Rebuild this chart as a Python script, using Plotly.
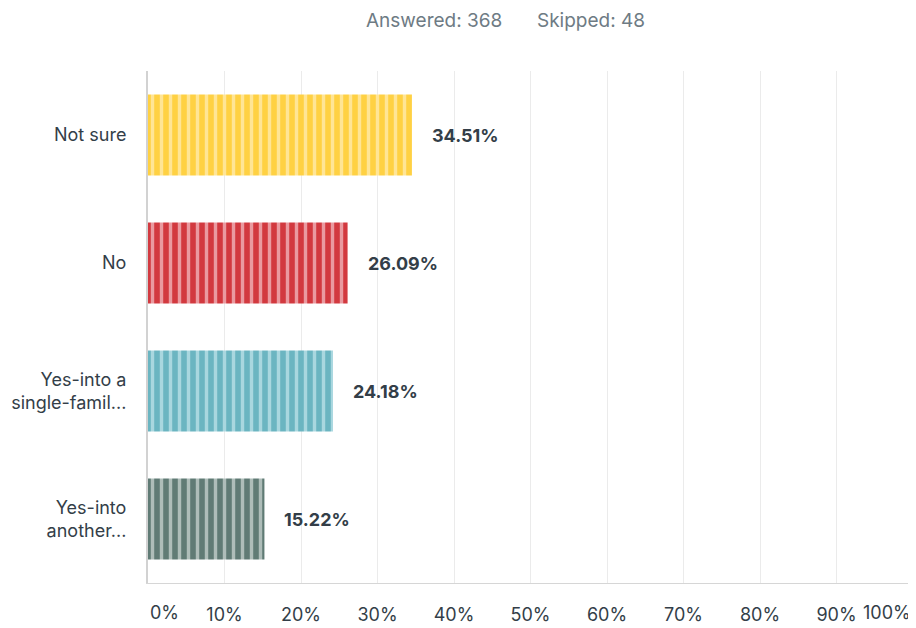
import plotly.graph_objects as go

categories = ["Not sure", "No", "Yes-into a<br>single-famil...", "Yes-into<br>another..."]
values = [34.51, 26.09, 24.18, 15.22]
value_labels = ["34.51%", "26.09%", "24.18%", "15.22%"]
bar_colors = ["#FFD143", "#D2393F", "#6BB5C1", "#607B75"]
stripe_colors = ["#FFE596", "#EA9AA0", "#A9D7DF", "#AEBDB9"]
tick_vals = [0, 10, 20, 30, 40, 50, 60, 70, 80, 90, 100]
tick_text = ["", "10%", "20%", "30%", "40%", "50%", "60%", "70%", "80%", "90%", ""]

# the page body has an 8px default margin, so the figure is 8px smaller
OFF = 8
W, H = 916 - OFF, 628 - OFF
ML, MR, MT, MB = 148 - OFF, 3, 71 - OFF, 45
text_color = "#333E48"
font_family = "Inter, Roboto, sans-serif"

fig = go.Figure()
for c, v, bc, sc in zip(categories, values, bar_colors, stripe_colors):
    fig.add_trace(go.Bar(
        x=[v], y=[c], orientation="h", width=0.633,
        marker=dict(color=bc, line=dict(width=0),
                    pattern=dict(shape="|", size=9, solidity=0.38,
                                 fgcolor=sc, bgcolor=bc, fillmode="replace")),
        showlegend=False, hoverinfo="skip",
    ))

annotations = []
for c, v, t in zip(categories, values, value_labels):
    annotations.append(dict(x=v, y=c, xref="x", yref="y", text="<b>" + t + "</b>",
                            showarrow=False, xanchor="left", xshift=18,
                            font=dict(size=18, color=text_color, family=font_family)))
# end tick labels kept inside the plot
annotations.append(dict(x=tick_vals[0], y=0, xref="x", yref="paper", text="0%",
                        showarrow=False, xanchor="left", yanchor="middle", yshift=-29,
                        font=dict(size=18, color=text_color, family=font_family)))
annotations.append(dict(x=tick_vals[-1], y=0, xref="x", yref="paper", text="100%",
                        showarrow=False, xanchor="right", yanchor="middle", yshift=-29,
                        font=dict(size=18, color=text_color, family=font_family)))
# header
pw = W - ML - MR
annotations.append(dict(x=(364 - 148) / pw, y=1, xref="paper", yref="paper",
                        text="Answered: 368", showarrow=False, xanchor="left",
                        yanchor="middle", yshift=51,
                        font=dict(size=19, color="#6E7B84", family=font_family)))
annotations.append(dict(x=(535 - 148) / pw, y=1, xref="paper", yref="paper",
                        text="Skipped: 48", showarrow=False, xanchor="left",
                        yanchor="middle", yshift=51,
                        font=dict(size=19, color="#6E7B84", family=font_family)))

fig.update_layout(
    width=W, height=H,
    margin=dict(l=ML, r=MR, t=MT, b=MB, pad=0, autoexpand=False),
    plot_bgcolor="white", paper_bgcolor="white",
    barmode="overlay",
    annotations=annotations,
    xaxis=dict(range=[0, 100], tickvals=tick_vals, ticktext=tick_text,
               showgrid=True, gridcolor="#EBEBEB", gridwidth=1,
               zeroline=False, showline=True, linecolor="#D6D6D6", linewidth=1,
               ticks="", ticklabelstandoff=15, automargin=False,
               tickfont=dict(size=18, color=text_color, family=font_family),
               fixedrange=True),
    yaxis=dict(categoryorder="array", categoryarray=categories, autorange="reversed",
               showgrid=False, zeroline=False, showline=True, linecolor="#D2D2D2",
               linewidth=2, ticks="", ticklabelstandoff=16, automargin=False,
               tickfont=dict(size=18, color=text_color, family=font_family),
               fixedrange=True),
)

fig.write_html("out.html")
